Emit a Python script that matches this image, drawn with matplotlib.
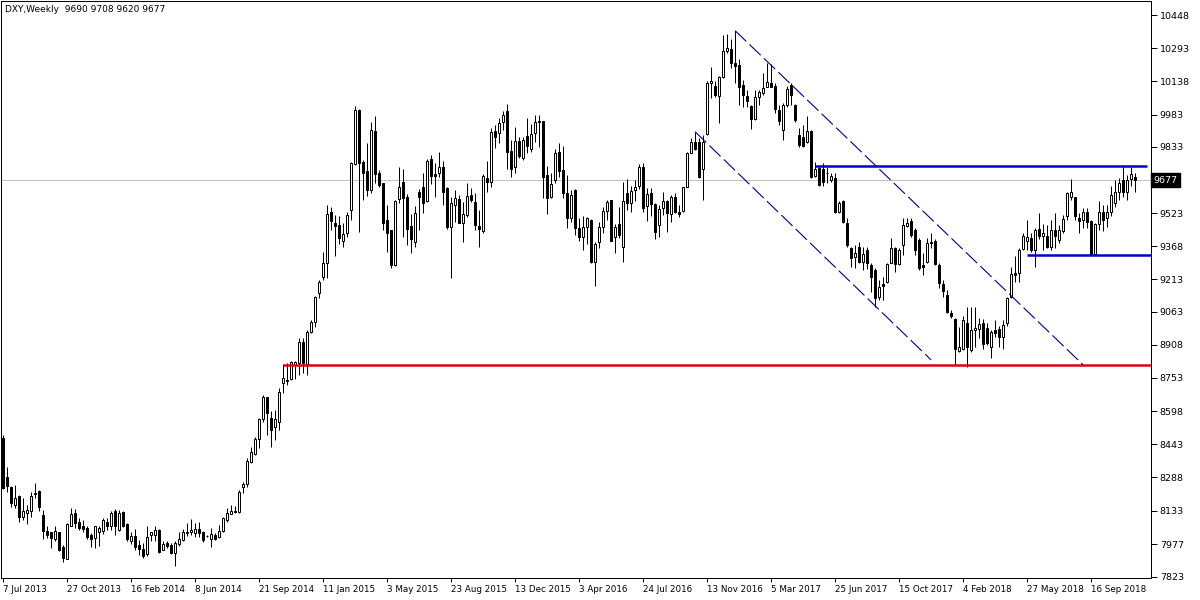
import matplotlib
matplotlib.use("Agg")
import matplotlib.pyplot as plt

# weekly DXY candles (price x100)
opens = [8471, 8289, 8241, 8157, 8199, 8105, 8124, 8129, 8212, 8225, 8113, 8038, 8031, 8000, 8031, 7961,
         7908, 8062, 8121, 8079, 8062, 8054, 8017, 8004, 8031, 8040, 8079, 8059, 8129, 8043, 8126, 8070,
         7993, 8015, 7973, 7953, 7931, 8020, 8017, 8043, 7950, 7984, 7973, 7934, 7976, 7996, 8028, 8032,
         8027, 8047, 8035, 8015, 7999, 8019, 8008, 8040, 8089, 8117, 8127, 8128, 8242, 8257, 8362, 8398,
         8468, 8561, 8662, 8564, 8522, 8549, 8728, 8743, 8747, 8814, 8821, 8919, 8818, 8966, 9013, 9148,
         9226, 9288, 9530, 9475, 9467, 9394, 9428, 9537, 9752, 10005, 9763, 9720, 9631, 9906, 9709, 9662,
         9491, 9444, 9281, 9587, 9667, 9597, 9463, 9390, 9623, 9643, 9580, 9774, 9706, 9709, 9737, 9639,
         9457, 9561, 9587, 9478, 9514, 9608, 9576, 9464, 9441, 9685, 9667, 9908, 9896, 9950, 10000, 9813,
         9737, 9861, 9782, 9883, 9822, 9896, 9955, 9953, 9701, 9600, 9675, 9807, 9724, 9615, 9499, 9631,
         9452, 9410, 9457, 9491, 9293, 9390, 9457, 9533, 9584, 9410, 9472, 9366, 9615, 9569, 9631, 9647,
         9740, 9558, 9615, 9566, 9468, 9545, 9577, 9519, 9600, 9530, 9534, 9646, 9802, 9857, 9857, 9729,
         9893, 10132, 10117, 10070, 10157, 10280, 10288, 10226, 10215, 10121, 10070, 10023, 9961, 10064, 10082, 10113,
         10132, 10117, 10002, 9911, 10028, 10121, 10028, 9888, 9880, 9857, 9908, 9697, 9732, 9728, 9712, 9675,
         9686, 9530, 9577, 9478, 9359, 9317, 9366, 9296, 9350, 9280, 9257, 9132, 9192, 9203, 9291, 9358,
         9285, 9374, 9464, 9487, 9444, 9397, 9280, 9296, 9389, 9394, 9280, 9192, 9140, 9058, 9027, 8880,
         8887, 9008, 8884, 8977, 8980, 9008, 8985, 8899, 8977, 8980, 8943, 9008, 9133, 9242, 9242, 9354,
         9394, 9405, 9348, 9447, 9416, 9416, 9366, 9444, 9398, 9437, 9507, 9600, 9600, 9499, 9491, 9530,
         9488, 9332, 9472, 9530, 9499, 9530, 9569, 9619, 9678, 9623, 9681, 9690]
highs = [8485, 8339, 8246, 8253, 8207, 8191, 8160, 8222, 8264, 8228, 8137, 8062, 8035, 8062, 8033, 7973,
         8074, 8144, 8140, 8098, 8090, 8059, 8028, 8062, 8062, 8098, 8098, 8133, 8140, 8137, 8129, 8074,
         8031, 8046, 7996, 7981, 8062, 8035, 8059, 8046, 7989, 7993, 7984, 7989, 8031, 8046, 8074, 8093,
         8074, 8081, 8038, 8020, 8050, 8030, 8066, 8102, 8144, 8159, 8156, 8229, 8268, 8377, 8432, 8478,
         8564, 8673, 8665, 8600, 8603, 8704, 8818, 8821, 8834, 8834, 8938, 8938, 8977, 9024, 9136, 9211,
         9340, 9561, 9553, 9514, 9509, 9475, 9530, 9763, 10023, 10008, 9771, 9852, 9950, 9977, 9724, 9665,
         9561, 9444, 9584, 9737, 9727, 9612, 9519, 9556, 9634, 9709, 9774, 9794, 9755, 9810, 9768, 9643,
         9597, 9631, 9608, 9576, 9662, 9639, 9618, 9538, 9706, 9768, 9919, 9934, 9966, 10000, 10033, 9864,
         9927, 9880, 9880, 9966, 9938, 9981, 9981, 9953, 9743, 9712, 9821, 9852, 9836, 9701, 9631, 9634,
         9499, 9510, 9506, 9494, 9390, 9483, 9550, 9584, 9584, 9472, 9550, 9670, 9681, 9650, 9678, 9752,
         9759, 9639, 9639, 9569, 9561, 9623, 9584, 9608, 9615, 9560, 9646, 9810, 9872, 9903, 9872, 9888,
         10140, 10207, 10142, 10163, 10355, 10360, 10335, 10375, 10241, 10145, 10098, 10028, 10098, 10098, 10176, 10223,
         10220, 10129, 10028, 10036, 10117, 10129, 10033, 9919, 9935, 9974, 9911, 9763, 9740, 9756, 9740, 9712,
         9709, 9577, 9584, 9499, 9366, 9374, 9390, 9366, 9366, 9288, 9265, 9210, 9226, 9288, 9405, 9366,
         9358, 9498, 9498, 9498, 9452, 9405, 9335, 9405, 9428, 9400, 9288, 9210, 9164, 9070, 9031, 8992,
         9040, 9086, 9086, 9086, 9032, 9027, 9008, 8977, 9024, 8993, 9024, 9133, 9273, 9320, 9359, 9429,
         9491, 9429, 9452, 9522, 9472, 9468, 9491, 9522, 9468, 9514, 9623, 9681, 9600, 9522, 9545, 9545,
         9491, 9475, 9577, 9561, 9561, 9647, 9678, 9686, 9748, 9701, 9740, 9708]
lows = [8232, 8222, 8152, 8144, 8082, 8090, 8071, 8105, 8194, 8129, 8000, 8004, 7958, 7989, 7942, 7891,
        7906, 8059, 8054, 8043, 8035, 8000, 7961, 7958, 7968, 8025, 8043, 8043, 8020, 8040, 8056, 7989,
        7978, 7950, 7926, 7911, 7922, 7989, 7989, 7934, 7947, 7958, 7931, 7875, 7968, 7989, 8015, 8020,
        8011, 8011, 7988, 8008, 7965, 7996, 8004, 8035, 8081, 8117, 8123, 8123, 8214, 8245, 8354, 8393,
        8424, 8549, 8486, 8432, 8463, 8510, 8681, 8720, 8743, 8747, 8767, 8775, 8767, 8961, 8989, 9125,
        9211, 9218, 9444, 9320, 9379, 9366, 9413, 9491, 9748, 9436, 9584, 9603, 9618, 9662, 9646, 9444,
        9343, 9265, 9277, 9572, 9413, 9374, 9335, 9363, 9444, 9522, 9576, 9659, 9600, 9690, 9561, 9447,
        9218, 9483, 9475, 9390, 9506, 9576, 9444, 9366, 9432, 9623, 9643, 9826, 9852, 9911, 9729, 9690,
        9712, 9779, 9771, 9802, 9810, 9853, 9833, 9595, 9517, 9592, 9665, 9690, 9592, 9452, 9483, 9421,
        9394, 9351, 9379, 9288, 9180, 9359, 9429, 9491, 9394, 9338, 9405, 9296, 9538, 9530, 9577, 9634,
        9527, 9488, 9510, 9401, 9413, 9514, 9436, 9483, 9522, 9505, 9530, 9643, 9802, 9818, 9685, 9584,
        9888, 10059, 10064, 9945, 10153, 10269, 10199, 10130, 10028, 10017, 10020, 9914, 9958, 10028, 10075, 10113,
        10111, 9989, 9935, 9865, 10017, 10028, 9950, 9833, 9833, 9849, 9686, 9693, 9650, 9647, 9662, 9670,
        9522, 9522, 9475, 9366, 9273, 9265, 9289, 9257, 9260, 9156, 9086, 9117, 9117, 9195, 9288, 9249,
        9280, 9327, 9459, 9413, 9327, 9257, 9234, 9288, 9358, 9280, 9171, 9132, 9055, 9031, 8813, 8876,
        8884, 8806, 8876, 8899, 8938, 8887, 8907, 8845, 8946, 8899, 8887, 8996, 9125, 9203, 9203, 9351,
        9351, 9343, 9273, 9401, 9351, 9359, 9351, 9359, 9382, 9429, 9491, 9584, 9491, 9429, 9452, 9452,
        9328, 9328, 9444, 9441, 9460, 9507, 9553, 9584, 9600, 9584, 9647, 9620]
closes = [8238, 8250, 8168, 8191, 8105, 8129, 8136, 8202, 8215, 8149, 8040, 8020, 8003, 8038, 7950, 7911,
          8071, 8116, 8074, 8054, 8046, 8012, 8001, 8059, 8054, 8090, 8059, 8124, 8059, 8124, 8059, 8000,
          8015, 7965, 7954, 7922, 8012, 8031, 8043, 7939, 7976, 7970, 7937, 7981, 8001, 8035, 8035, 8043,
          8046, 8030, 7996, 8013, 8024, 8001, 8040, 8097, 8123, 8130, 8133, 8222, 8257, 8366, 8405, 8468,
          8561, 8662, 8587, 8510, 8561, 8686, 8751, 8740, 8829, 8829, 8919, 8821, 8966, 9013, 9130, 9200,
          9288, 9519, 9488, 9464, 9405, 9425, 9514, 9755, 10005, 9755, 9709, 9631, 9911, 9706, 9654, 9478,
          9432, 9281, 9580, 9646, 9592, 9447, 9400, 9522, 9600, 9569, 9768, 9696, 9696, 9737, 9623, 9460,
          9572, 9592, 9478, 9519, 9603, 9584, 9467, 9447, 9696, 9670, 9900, 9877, 9942, 9981, 9807, 9729,
          9860, 9791, 9864, 9838, 9892, 9950, 9950, 9693, 9592, 9657, 9802, 9721, 9615, 9499, 9608, 9452,
          9413, 9460, 9499, 9296, 9379, 9457, 9533, 9573, 9394, 9457, 9421, 9577, 9569, 9628, 9643, 9737,
          9545, 9612, 9566, 9436, 9541, 9581, 9525, 9600, 9530, 9520, 9643, 9805, 9857, 9821, 9690, 9857,
          10132, 10142, 10075, 10157, 10280, 10293, 10226, 10211, 10114, 10075, 10048, 9961, 10064, 10086, 10106, 10137,
          10114, 10008, 9955, 10028, 10101, 10075, 9958, 9841, 9837, 9904, 9693, 9728, 9654, 9670, 9710, 9697,
          9530, 9569, 9483, 9374, 9312, 9335, 9292, 9332, 9288, 9223, 9125, 9176, 9182, 9284, 9358, 9285,
          9350, 9467, 9475, 9420, 9350, 9265, 9273, 9385, 9382, 9285, 9195, 9161, 9062, 9042, 8886, 8899,
          9021, 8899, 8977, 8985, 9005, 8912, 8918, 8969, 8962, 8943, 9001, 9125, 9239, 9234, 9351, 9416,
          9410, 9351, 9444, 9416, 9429, 9366, 9444, 9416, 9444, 9494, 9616, 9623, 9507, 9488, 9530, 9483,
          9332, 9472, 9530, 9491, 9530, 9608, 9623, 9665, 9623, 9678, 9706, 9677]

# time scale labels, one every 16 bars
date_labels = ["7 Jul 2013", "27 Oct 2013", "16 Feb 2014", "8 Jun 2014", "21 Sep 2014", "11 Jan 2015",
               "3 May 2015", "23 Aug 2015", "13 Dec 2015", "3 Apr 2016", "24 Jul 2016", "13 Nov 2016",
               "5 Mar 2017", "25 Jun 2017", "15 Oct 2017", "4 Feb 2018", "27 May 2018", "16 Sep 2018"]
label_step = 16

last_price = 9677

# drawn objects: horizontal levels (price, from bar, to bar) and the falling channel
support = (8814, 70, 287)
resistance = (9743, 203, 286)
range_floor = (9327, 256, 287)
channel_upper = ([183, 270], [10375, 8814])
channel_lower = ([173, 232], [9903, 8837])

price_ticks = [10448, 10293, 10138, 9983, 9833, 9523, 9368, 9213, 9063, 8908,
               8753, 8598, 8443, 8288, 8133, 7977, 7823]

n = len(closes)
xs = list(range(n))
ymin, ymax = 7818.2, 10513.4

W, H = 1200, 600
fig = plt.figure(figsize=(W / 100, H / 100), dpi=100)
ax = fig.add_axes([0.5 / W, 22 / H, 1151 / W, 577 / H])
ax.set_xlim(-0.625, 287.1)
ax.set_ylim(ymin, ymax)

lw = 0.72  # ~1px

ax.axhline(last_price, color="#c0c0c0", lw=lw, zorder=1)

# candles
ax.vlines(xs, lows, highs, color="black", lw=lw, zorder=2)
for i in xs:
    o, c = opens[i], closes[i]
    bottom = min(o, c)
    height = max(abs(c - o), 1.0)
    face = "white" if c >= o else "black"
    ax.bar(i, height, bottom=bottom, width=0.5, color=face,
           edgecolor="black", linewidth=lw, zorder=3)

# levels
ax.hlines(support[0], support[1], support[2], color="#e00010", lw=1.8, zorder=4)
ax.hlines(resistance[0], resistance[1], resistance[2], color="#0000cc", lw=1.8, zorder=4)
ax.hlines(range_floor[0], range_floor[1], range_floor[2], color="#0000cc", lw=1.8, zorder=4)
for xl, yl in (channel_upper, channel_lower):
    ax.plot(xl, yl, color="#000080", lw=0.8, dashes=(14, 4), zorder=4)

# axes look like the terminal window
for s in ax.spines.values():
    s.set_color("black")
    s.set_linewidth(lw)

ax.yaxis.tick_right()
ax.set_yticks(price_ticks)
ax.set_yticklabels([str(p) for p in price_ticks])
ax.tick_params(axis="y", direction="out", length=4, width=lw, pad=2, labelsize=6.8)

xt = [k * label_step for k in range(len(date_labels))]
ax.set_xticks(xt)
ax.set_xticklabels(date_labels, ha="left")
ax.tick_params(axis="x", direction="out", length=3, width=lw, pad=2, labelsize=6.3)

ax.text(1.002, (last_price - ymin) / (ymax - ymin), str(last_price),
        transform=ax.transAxes, color="white", fontsize=6.8, va="center", ha="left",
        bbox=dict(boxstyle="square,pad=0.25", fc="black", ec="black"))

ax.text(5 / 1151, 1 - 9 / 577, f"DXY,Weekly  {opens[-1]} {highs[-1]} {lows[-1]} {closes[-1]}",
        transform=ax.transAxes, fontsize=6.5, va="center", ha="left")

fig.savefig("out.png", dpi=100, facecolor="white")
